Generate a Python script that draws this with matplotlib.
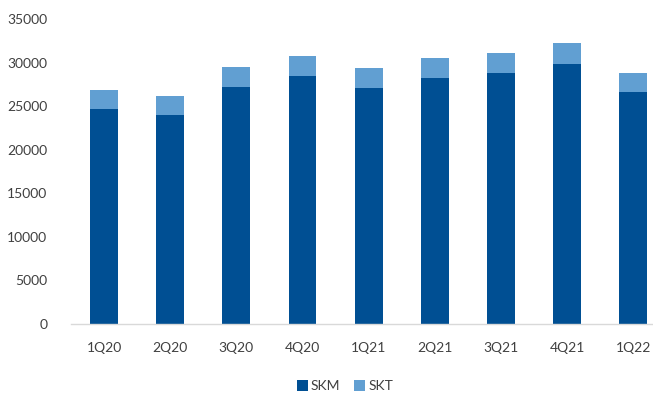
import matplotlib
matplotlib.use("Agg")
import matplotlib.pyplot as plt
import numpy as np

plt.rcParams['font.family'] = ['Lato', 'DejaVu Sans']

categories = ["1Q20", "2Q20", "3Q20", "4Q20", "1Q21", "2Q21", "3Q21", "4Q21", "1Q22"]
skm = [24700, 23950, 27150, 28500, 27050, 28250, 28800, 29800, 26650]
skt = [2200, 2200, 2300, 2300, 2350, 2250, 2300, 2450, 2100]
yticks = [0, 5000, 10000, 15000, 20000, 25000, 30000, 35000]

c_skm = "#004F93"
c_skt = "#619FD2"

fig = plt.figure(figsize=(6.53, 3.94), dpi=100)
ax = fig.add_axes([71/653, 70/394, (653-71)/653, 305/394])

x = np.arange(len(categories))
w = 0.42
ax.bar(x, skm, width=w, color=c_skm, label="SKM", zorder=2)
ax.bar(x, skt, width=w, bottom=skm, color=c_skt, label="SKT", zorder=2)

ax.set_ylim(0, 35000)
ax.set_xlim(-0.5, 8.30)
ax.set_yticks(yticks)
ax.set_yticklabels([str(v) for v in yticks])
ax.set_xticks(x)
ax.set_xticklabels(categories)
ax.tick_params(axis='both', length=0, labelsize=10, colors="#404040")
ax.tick_params(axis='y', pad=17)
ax.tick_params(axis='x', pad=13)
for s in ["top", "right", "left"]:
    ax.spines[s].set_visible(False)
ax.spines["bottom"].set_color("#d9d9d9")
ax.spines["bottom"].set_linewidth(1.0)

leg = fig.legend(loc="center", bbox_to_anchor=(345/653, 1 - 386/394), ncol=2,
                 frameon=False, fontsize=10, handlelength=0.8, handleheight=0.8,
                 handletextpad=0.2, columnspacing=1.0, labelcolor="#404040")

fig.savefig("out.png", dpi=100)
